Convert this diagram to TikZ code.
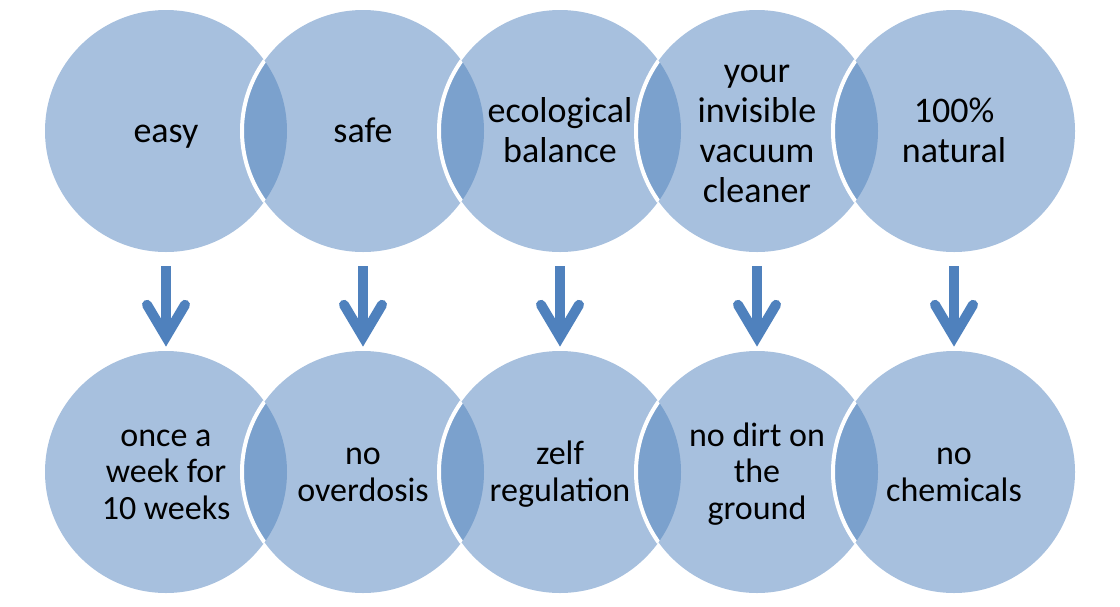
\documentclass[tikz,border=0pt]{standalone}
\usepackage{fontspec}
\setmainfont{Carlito}
\usetikzlibrary{calc}
\definecolor{lightfill}{HTML}{A7C0DE}
\definecolor{overlapfill}{HTML}{7BA1CD}
\definecolor{arrowblue}{HTML}{4F81BD}
\tikzset{
  toptext/.style={circle, minimum size=242pt, inner sep=0pt, align=center, text=black, yshift=-3.5pt, font=\fontsize{36}{40}\selectfont},
  bottext/.style={circle, minimum size=242pt, inner sep=0pt, align=center, text=black, yshift=-3.5pt, font=\fontsize{34}{36.5}\selectfont},
  shaftline/.style={draw=arrowblue, line width=10pt, line cap=butt},
  headline/.style={draw=arrowblue, line width=10pt, line cap=round, line join=miter},
  rim/.style={draw=white, line width=4pt}
}
\begin{document}
\begin{tikzpicture}[x=1pt,y=-1pt]
\useasboundingbox (0,0) rectangle (1120,606);
\def\R{121}
\foreach \i/\x in {1/166,2/363,3/560,4/757,5/954}{
  \coordinate (p\i) at (\x,131);
  \coordinate (q\i) at (\x,472);
}
\foreach \row in {p,q}{
  \foreach \i [count=\j from 0] in {1,...,5}{
    \fill[lightfill] (\row\i) circle (\R);
    \ifnum\i>1
      \begin{scope}
        \clip (\row\j) circle (\R);
        \fill[overlapfill] (\row\i) circle (\R);
        \path[rim] (\row\i) circle (\R);
      \end{scope}
    \fi
  }
}
\node[toptext] (t1) at (p1) {\strut easy};
\node[toptext] (t2) at (p2) {\strut safe};
\node[toptext] (t3) at (p3) {\strut ecological\\\strut balance};
\node[toptext] (t4) at (p4) {\strut your\\invisible\\vacuum\\\strut cleaner};
\node[toptext] (t5) at (p5) {\strut 100\%\\\strut natural};
\node[bottext] (b1) at (q1) {\strut once a\\week for\\\strut 10 weeks};
\node[bottext] (b2) at (q2) {\strut no\\\strut overdosis};
\node[bottext] (b3) at (q3) {\strut zelf\\\strut regulation};
\node[bottext] (b4) at (q4) {\strut no dirt on\\the\\\strut ground};
\node[bottext] (b5) at (q5) {\strut no\\\strut chemicals};
\foreach \i in {1,...,5}{
  \path[shaftline] ($(t\i.south)+(0,10.5)$) -- ($(b\i.north)+(0,-20.5)$);
  \path[headline] ($(b\i.north)+(-19,-49.5)$) -- ($(b\i.north)+(0,-17.5)$) -- ($(b\i.north)+(19,-49.5)$);
}
\end{tikzpicture}
\end{document}
